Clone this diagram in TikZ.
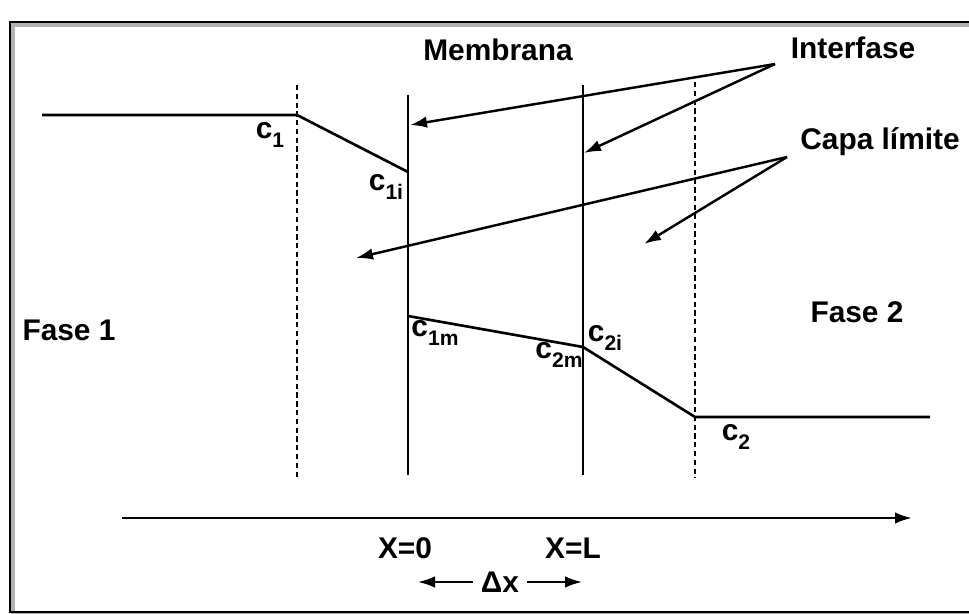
\documentclass[tikz,border=0pt]{standalone}
\usepackage{fontspec}
\setmainfont{Liberation Sans}
\usetikzlibrary{positioning,arrows.meta}
\newcommand{\conc}[1]{c\raisebox{-0.6ex}{\fontsize{12}{12}\selectfont #1}}

\begin{document}
\begin{tikzpicture}[x=0.02cm,y=-0.02cm,
    every node/.style={font=\fontsize{17}{19}\selectfont\bfseries, inner sep=1pt},
    prof/.style={line width=1.5pt},
    wall/.style={line width=1.4pt},
    film/.style={line width=1.4pt, dash pattern=on 3pt off 2pt},
    ar/.style={-{Latex[length=3.4mm,width=2.3mm]}, line width=1.4pt}]
  \useasboundingbox (0,0) rectangle (969,614);
  % frame
  \draw[gray!60, line width=2pt] (13,25) rectangle (971,615);
  \draw[line width=1.4pt] (10,22) rectangle (975,612);
  % walls and boundary layers
  \draw[film] (297,85) -- (297,478);
  \draw[wall] (408,95) -- (408,475);
  \draw[wall] (583,85) -- (583,475);
  \draw[film] (695,82) -- (695,478);
  % concentration profile
  \coordinate (p0) at (42,115);
  \coordinate (pc1) at (297,115);
  \coordinate (pc1i) at (408,172);
  \coordinate (pc1m) at (408,316);
  \coordinate (pc2m) at (583,347);
  \coordinate (pc2) at (695,417);
  \coordinate (p3) at (930,417);
  \draw[prof] (p0) -- (pc1) -- (pc1i);
  \draw[prof] (pc1m) -- (pc2m) -- (pc2) -- (p3);
  \node (c1) at (270,135) {\conc{1}};
  \node (c1i) at (386,187) {\conc{1i}};
  \node (c1m) at (435,333) {\conc{1m}};
  \node (c2m) at (559,355) {\conc{2m}};
  \node (c2i) at (605,338) {\conc{2i}};
  \node (c2) at (736,437) {\conc{2}};
  % labels
  \node (memb) at (498,50) {Membrana};
  \node (inter) at (853,48) {Interfase};
  \node (capa) at (880,142) {Capa límite};
  \node (fase1) at (69,330) {Fase 1};
  \node (fase2) at (857,312) {Fase 2};
  % pointers
  \coordinate (ti) at (775,64);
  \coordinate (tc) at (787,157);
  \coordinate (wi1) at (410,125);
  \coordinate (wi2) at (584,153);
  \coordinate (bl1) at (356,258);
  \coordinate (bl2) at (644,244);
  \draw[ar] (ti) -- (wi1);
  \draw[ar] (ti) -- (wi2);
  \draw[ar] (tc) -- (bl1);
  \draw[ar] (tc) -- (bl2);
  % axis
  \coordinate (ax0) at (122,518);
  \coordinate (ax1) at (912,518);
  \draw[ar] (ax0) -- (ax1);
  \node (x0) at (405,548) {X=0};
  \node (xl) at (573,548) {X=L};
  \node (dx) at (500,582) {Δx};
  \coordinate (dxl) at (418,582);
  \coordinate (dxr) at (582,582);
  \draw[ar, line width=1.1pt] (dx.west) ++(-6,0) -- (dxl);
  \draw[ar, line width=1.1pt] (dx.east) ++(6,0) -- (dxr);
\end{tikzpicture}
\end{document}
